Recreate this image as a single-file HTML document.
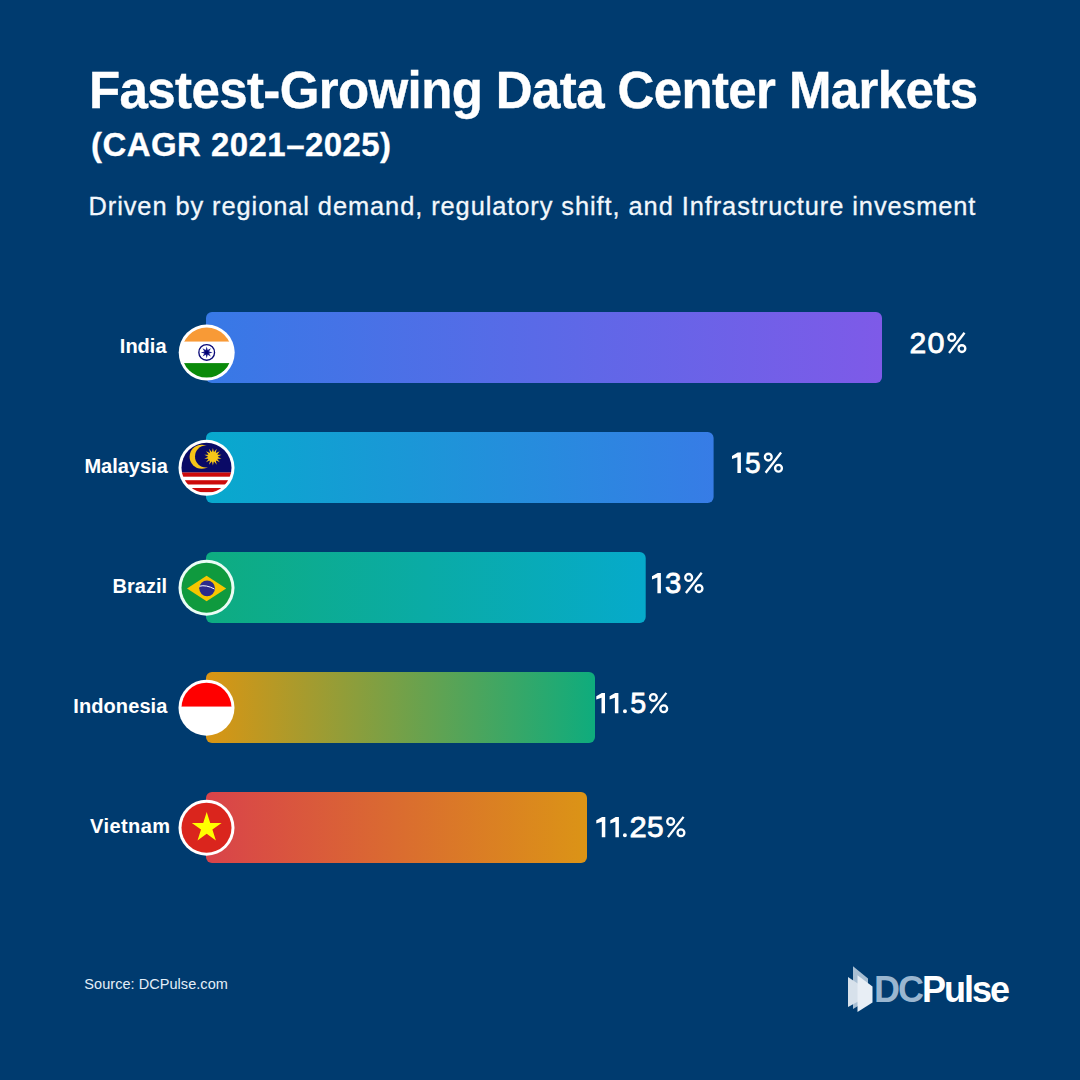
<!DOCTYPE html>
<html>
<head>
<meta charset="utf-8">
<style>
html,body{margin:0;padding:0;width:1080px;height:1080px;overflow:hidden;background:#003b6f;}
svg{display:block;}
text{font-family:"Liberation Sans",sans-serif;}
</style>
</head>
<body>
<svg width="1080" height="1080" viewBox="0 0 1080 1080">
<defs>
  <linearGradient id="gIn" x1="0" y1="0" x2="1" y2="0"><stop offset="0" stop-color="#3779e6"/><stop offset="1" stop-color="#7e5ae8"/></linearGradient>
  <linearGradient id="gMy" x1="0" y1="0" x2="1" y2="0"><stop offset="0" stop-color="#08a9cd"/><stop offset="1" stop-color="#377ce6"/></linearGradient>
  <linearGradient id="gBr" x1="0" y1="0" x2="1" y2="0"><stop offset="0" stop-color="#0eac80"/><stop offset="1" stop-color="#06aacb"/></linearGradient>
  <linearGradient id="gId" x1="0" y1="0" x2="1" y2="0"><stop offset="0" stop-color="#da9513"/><stop offset="1" stop-color="#0eac7d"/></linearGradient>
  <linearGradient id="gVn" x1="0" y1="0" x2="1" y2="0"><stop offset="0" stop-color="#d9434a"/><stop offset="1" stop-color="#db9416"/></linearGradient>
  <clipPath id="cIn"><circle cx="206.7" cy="352.6" r="25"/></clipPath>
  <clipPath id="cMy"><circle cx="206.5" cy="467.8" r="25"/></clipPath>
  <clipPath id="cBr"><circle cx="206.5" cy="587.7" r="25"/></clipPath>
  <clipPath id="cId"><circle cx="206.5" cy="707.7" r="25"/></clipPath>
  <clipPath id="cVn"><circle cx="206.5" cy="827.7" r="25"/></clipPath>
</defs>
<rect width="1080" height="1080" fill="#003b6f"/>

<!-- Titles -->
<text x="89" y="108" font-size="51" font-weight="bold" fill="#ffffff" stroke="#ffffff" stroke-width="0.4" letter-spacing="-0.61">Fastest-Growing Data Center Markets</text>
<text x="91" y="156" font-size="33" font-weight="bold" fill="#ffffff" stroke="#ffffff" stroke-width="0.3" letter-spacing="0.44">(CAGR 2021–2025)</text>
<text x="88.5" y="214.8" font-size="25.4" fill="#f2f7fc" stroke="#f2f7fc" stroke-width="0.3" letter-spacing="0.93">Driven by regional demand, regulatory shift, and Infrastructure invesment</text>

<!-- Bars -->
<rect x="206" y="312" width="676" height="71" rx="6" fill="url(#gIn)"/>
<rect x="206" y="432" width="507.6" height="71" rx="6" fill="url(#gMy)"/>
<rect x="206" y="552" width="439.7" height="71" rx="6" fill="url(#gBr)"/>
<rect x="206" y="672" width="389" height="71" rx="6" fill="url(#gId)"/>
<rect x="206" y="792" width="381" height="71" rx="6" fill="url(#gVn)"/>

<!-- Country labels -->
<g font-size="20" font-weight="bold" fill="#ffffff" text-anchor="end">
<text x="166.5" y="353.1">India</text>
<text x="167.8" y="473.1">Malaysia</text>
<text x="167" y="593.1">Brazil</text>
<text x="167.5" y="713" letter-spacing="0.1">Indonesia</text>
<text x="170.6" y="833" letter-spacing="0.45">Vietnam</text>
</g>

<!-- Percent labels -->
<g font-size="30" fill="#ffffff" stroke="#ffffff" stroke-width="0.8">
<text transform="translate(917.95,353.0) scale(1.002,1)" x="-8.34">2</text>
<text transform="translate(935.90,353.0) scale(1.018,1)" x="-8.34">0</text>
<text transform="translate(752.75,472.7) scale(0.935,1)" x="-8.31">5</text>
<text transform="translate(673.05,593.0) scale(0.977,1)" x="-8.25">3</text>
<text transform="translate(638.10,713.0999999999999) scale(0.956,1)" x="-8.31">5</text>
<text transform="translate(638.05,837.0999999999999) scale(1.032,1)" x="-8.34">2</text>
<text transform="translate(655.30,837.0999999999999) scale(0.998,1)" x="-8.31">5</text>
<path stroke="none" d="M740.90,452.60 V472.90 H737.40 V457.30 L732.00,459.10 V455.90 L737.70,452.60 Z M660.90,572.90 V593.20 H657.40 V577.60 L652.00,579.40 V576.20 L657.70,572.90 Z M605.00,693.00 V713.30 H601.50 V697.70 L596.30,699.50 V696.30 L601.80,693.00 Z M618.40,693.00 V713.30 H614.90 V697.70 L609.60,699.50 V696.30 L615.20,693.00 Z M622.95,711.35 a2,2 0 1 0 4,0 a2,2 0 1 0 -4,0 Z M605.30,817.00 V837.30 H601.80 V821.70 L596.30,823.50 V820.30 L602.10,817.00 Z M618.90,817.00 V837.30 H615.40 V821.70 L610.30,823.50 V820.30 L615.70,817.00 Z M622.90,835.35 a2,2 0 1 0 4,0 a2,2 0 1 0 -4,0 Z"/>
<g fill="none" stroke-width="2.35"><circle cx="951.78" cy="337.40" r="3.4"/><circle cx="961.92" cy="348.60" r="3.4"/><line x1="949.09" y1="353.00" x2="964.51" y2="332.80"/><circle cx="768.30" cy="457.10" r="3.4"/><circle cx="778.50" cy="468.30" r="3.4"/><line x1="765.60" y1="472.70" x2="781.10" y2="452.50"/><circle cx="688.67" cy="577.40" r="3.4"/><circle cx="699.03" cy="588.60" r="3.4"/><line x1="685.93" y1="593.00" x2="701.67" y2="572.80"/><circle cx="653.37" cy="697.50" r="3.4"/><circle cx="663.73" cy="708.70" r="3.4"/><line x1="650.63" y1="713.10" x2="666.37" y2="692.90"/><circle cx="670.65" cy="821.50" r="3.4"/><circle cx="680.95" cy="832.70" r="3.4"/><line x1="667.92" y1="837.10" x2="683.58" y2="816.90"/></g>
</g>

<!-- Flags -->
<!-- India -->
<circle cx="206.7" cy="352.6" r="28" fill="#ffffff"/>
<g clip-path="url(#cIn)">
  <rect x="180" y="325" width="54" height="16.8" fill="#f89a36"/>
  <rect x="180" y="341.7" width="54" height="21.4" fill="#ffffff"/>
  <rect x="180" y="363.1" width="54" height="16" fill="#0a8a0a"/>
  <circle cx="206.7" cy="352.4" r="7.85" fill="none" stroke="#0a0a78" stroke-width="1.35"/>
  <polygon points="212.60,352.40 209.10,353.39 210.87,356.57 207.69,354.80 206.70,358.30 205.71,354.80 202.53,356.57 204.30,353.39 200.80,352.40 204.30,351.41 202.53,348.23 205.71,350.00 206.70,346.50 207.69,350.00 210.87,348.23 209.10,351.41" fill="#1a1a8c"/>
  <circle cx="206.7" cy="352.4" r="1.8" fill="#000070"/>
</g>

<!-- Malaysia -->
<circle cx="206.5" cy="467.8" r="28" fill="#ffffff"/>
<g clip-path="url(#cMy)">
  <rect x="180" y="440" width="54" height="55" fill="#ffffff"/>
  <rect x="180" y="440" width="54" height="32.6" fill="#0a0a66"/>
  <rect x="180" y="472.5" width="54" height="4.2" fill="#cc0a0a"/>
  <rect x="180" y="480.2" width="54" height="4.3" fill="#cc0a0a"/>
  <rect x="180" y="488" width="54" height="4.2" fill="#cc0a0a"/>
  <circle cx="201.6" cy="456.7" r="12" fill="#f5c518"/>
  <circle cx="206.0" cy="456.5" r="11.0" fill="#0a0a66"/>
  <polygon points="212.90,447.90 213.92,452.22 216.72,448.77 215.77,453.10 219.78,451.21 217.04,454.70 221.48,454.74 217.50,456.70 221.48,458.66 217.04,458.70 219.78,462.19 215.77,460.30 216.72,464.63 213.92,461.18 212.90,465.50 211.88,461.18 209.08,464.63 210.03,460.30 206.02,462.19 208.76,458.70 204.32,458.66 208.30,456.70 204.32,454.74 208.76,454.70 206.02,451.21 210.03,453.10 209.08,448.77 211.88,452.22" fill="#f5c518"/>
  <circle cx="212.9" cy="456.7" r="5.0" fill="#f5c518"/>
</g>

<!-- Brazil -->
<circle cx="206.5" cy="587.7" r="28" fill="#eafcf5"/>
<g clip-path="url(#cBr)">
  <rect x="180" y="560" width="54" height="55" fill="#0f9a3e"/>
  <polygon points="187,588.5 206.6,575.8 226.2,588.5 206.6,601.2" fill="#f7c600"/>
  <circle cx="207.1" cy="588.3" r="7.9" fill="#2b2b8c"/>
  <path d="M199.5,586.2 Q206,584.5 214.5,589" stroke="#ffffff" stroke-width="1" fill="none"/>
</g>

<!-- Indonesia -->
<circle cx="206.5" cy="707.7" r="28" fill="#ffffff"/>
<g clip-path="url(#cId)">
  <rect x="180" y="680" width="54" height="26.8" fill="#ff0000"/>
  <rect x="180" y="706.7" width="54" height="30" fill="#ffffff"/>
</g>

<!-- Vietnam -->
<circle cx="206.5" cy="827.7" r="28" fill="#ffffff"/>
<g clip-path="url(#cVn)">
  <rect x="180" y="800" width="54" height="55" fill="#da251d"/>
  <polygon points="206.7,812.1 210.2,822.9 221.6,822.9 212.4,829.6 215.9,840.4 206.7,833.7 197.5,840.4 201,829.6 191.8,822.9 203.2,822.9" fill="#ffff00"/>
</g>

<!-- Source -->
<text x="84.3" y="989" font-size="14.5" fill="#e3eef8" letter-spacing="0.05">Source: DCPulse.com</text>

<!-- Logo -->
<polygon points="853,966.3 868,978.5 868,1000 853,1009" fill="#a9bfd3"/>
<polygon points="848,977 860,985 860,1000.5 848,1007" fill="#d7e1eb"/>
<polygon points="857.5,975.2 872.5,986.5 872.5,1002.5 857.5,1012" fill="#e8eef5"/>
<text x="874" y="1002.1" font-size="36" font-weight="bold" letter-spacing="-2"><tspan fill="#9ab6d0">DC</tspan><tspan fill="#ffffff">Pulse</tspan></text>
</svg>
</body>
</html>
